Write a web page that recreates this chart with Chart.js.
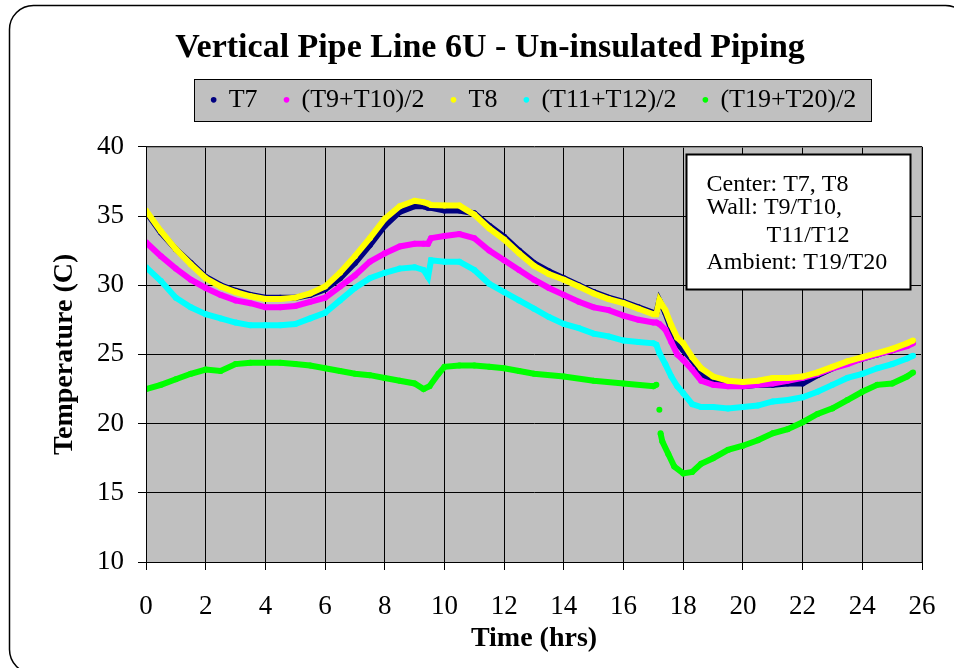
<!DOCTYPE html>
<html>
<head>
<meta charset="utf-8">
<script src="https://cdn.jsdelivr.net/npm/chart.js@4.4.1/dist/chart.umd.min.js"></script>
<style>
  html, body { margin: 0; padding: 0; background: #ffffff; }
  #wrap { width: 954px; height: 668px; position: relative; }
</style>
</head>
<body>
<div id="wrap"><canvas id="c" width="954" height="668"></canvas></div>
<script>
// ---- Data ----
const chartTitle = 'Vertical Pipe Line 6U - Un-insulated Piping';
const seriesNames = ['T7', '(T9+T10)/2', 'T8', '(T11+T12)/2', '(T19+T20)/2'];
const xTicks = [0, 2, 4, 6, 8, 10, 12, 14, 16, 18, 20, 22, 24, 26];
const yTicks = [10, 15, 20, 25, 30, 35, 40];
const noteLines = ['Center: T7, T8', 'Wall: T9/T10,', '         T11/T12', 'Ambient: T19/T20'];

const timePipe = [0, 0.5, 1, 1.5, 2, 2.5, 3, 3.5, 4, 4.5, 5, 5.5, 6, 6.5, 7, 7.5, 8, 8.5, 9,
  9.3, 9.45, 9.55, 10, 10.5, 11, 11.5, 12, 12.5, 13, 13.5, 14, 14.5, 15, 15.5, 16, 16.5, 17,
  17.1, 17.2, 17.4, 17.6, 17.8, 18, 18.3, 18.6, 19, 19.5, 20, 20.5, 21, 21.5, 22, 22.5, 23,
  23.5, 24, 24.5, 25, 25.5, 25.7];

const t7 = [35.3, 33.8, 32.6, 31.6, 30.6, 30.0, 29.6, 29.3, 29.1, 29.1, 29.1, 29.3, 29.7, 30.5,
  31.6, 32.9, 34.3, 35.3, 35.7, 35.7, 35.6, 35.6, 35.4, 35.4, 35.2, 34.3, 33.5, 32.5, 31.6, 31.0,
  30.5, 30.0, 29.5, 29.1, 28.8, 28.4, 28.0, 28.0, 28.9, 28.0, 26.8, 25.8, 25.3, 24.6, 23.6, 23.1,
  22.8, 22.7, 22.8, 22.8, 22.9, 22.9, 23.5, 24.0, 24.4, 24.7, 25.0, 25.3, 25.7, 25.9];

const t9t10 = [33.1, 32.1, 31.2, 30.4, 29.8, 29.3, 28.9, 28.7, 28.4, 28.4, 28.5, 28.8, 29.1, 29.9,
  30.7, 31.7, 32.3, 32.8, 33.0, 33.0, 33.0, 33.4, 33.55, 33.7, 33.4, 32.5, 31.8, 31.1, 30.4, 29.8,
  29.3, 28.8, 28.4, 28.2, 27.8, 27.5, 27.3, 27.3, 27.2, 26.8, 25.9, 25.0, 24.6, 23.9, 23.1, 22.8,
  22.7, 22.7, 22.8, 22.9, 23.1, 23.3, 23.6, 24.0, 24.3, 24.7, 25.0, 25.3, 25.6, 25.8];

const t8 = [35.4, 33.9, 32.6, 31.5, 30.5, 29.9, 29.5, 29.2, 29.0, 29.0, 29.1, 29.4, 29.9, 30.9,
  32.1, 33.4, 34.8, 35.7, 36.1, 36.0, 35.9, 35.8, 35.75, 35.75, 35.1, 34.1, 33.3, 32.3, 31.4, 30.8,
  30.4, 29.9, 29.4, 29.0, 28.7, 28.3, 27.9, 27.9, 28.9, 28.2, 27.1, 26.2, 25.8, 24.8, 24.0, 23.4,
  23.1, 23.0, 23.1, 23.3, 23.3, 23.4, 23.7, 24.1, 24.5, 24.8, 25.1, 25.4, 25.8, 26.0];

const t11t12 = [31.3, 30.3, 29.1, 28.4, 27.9, 27.6, 27.3, 27.1, 27.1, 27.1, 27.2, 27.6, 28.0, 28.9,
  29.8, 30.5, 30.9, 31.2, 31.3, 31.1, 30.6, 31.8, 31.7, 31.7, 31.1, 30.1, 29.5, 28.9, 28.3, 27.7,
  27.2, 26.9, 26.5, 26.3, 26.0, 25.9, 25.8, 25.7, 25.1, 24.3, 23.4, 22.7, 22.2, 21.4, 21.2, 21.2,
  21.1, 21.2, 21.3, 21.6, 21.7, 21.9, 22.3, 22.8, 23.3, 23.6, 24.0, 24.3, 24.7, 24.9];

const timeAmbient = [0, 0.5, 1, 1.5, 2, 2.5, 3, 3.5, 4, 4.5, 5, 5.5, 6, 6.5, 7, 7.5, 8, 8.5, 9,
  9.3, 9.5, 9.8, 10, 10.5, 11, 11.5, 12, 12.5, 13, 14, 15, 16, 17, 17.1, 17.15, 17.2, 17.22,
  17.23, 17.24, 17.3, 17.5, 17.7, 18, 18.3, 18.6, 19, 19.5, 20, 20.5, 21, 21.5, 22, 22.5, 23,
  23.5, 24, 24.5, 25, 25.5, 25.7];

const t19t20 = [22.5, 22.8, 23.2, 23.6, 23.9, 23.8, 24.3, 24.4, 24.4, 24.4, 24.3, 24.2, 24.0, 23.8,
  23.6, 23.5, 23.3, 23.1, 22.9, 22.5, 22.7, 23.6, 24.1, 24.2, 24.2, 24.1, 24.0, 23.8, 23.6, 23.4,
  23.1, 22.9, 22.7, 22.8, null, 21.0, null, null, 19.3, 18.7, 17.8, 16.9, 16.4, 16.5, 17.1, 17.5,
  18.1, 18.4, 18.8, 19.3, 19.6, 20.1, 20.7, 21.1, 21.7, 22.3, 22.8, 22.9, 23.4, 23.7];

const seriesColors = ['#000080', '#ff00ff', '#ffff00', '#00ffff', '#00ff00'];

// ---- Build datasets ----
function pts(xs, ys) { return xs.map((x, i) => ({ x: x, y: ys[i] })); }
const seriesData = [pts(timePipe, t7), pts(timePipe, t9t10), pts(timePipe, t8),
                    pts(timePipe, t11t12), pts(timeAmbient, t19t20)];
// drawing order: yellow (T8) painted over navy (T7)
const drawOrder = [2, 1, 0, 3, 4];
const datasets = seriesNames.map((name, i) => ({
  label: name,
  data: seriesData[i],
  xAxisID: 'x',
  yAxisID: 'y',
  borderColor: seriesColors[i],
  backgroundColor: seriesColors[i],
  pointBackgroundColor: seriesColors[i],
  pointBorderWidth: 0,
  pointRadius: 3,
  borderWidth: 6,
  tension: 0,
  spanGaps: false,
  showLine: true,
  order: drawOrder[i]
}));

const FONT = "'Liberation Serif', 'Times New Roman', serif";

const framePlugin = {
  id: 'frame',
  beforeDraw(chart) {
    const ctx = chart.ctx;
    ctx.save();
    ctx.fillStyle = '#ffffff';
    ctx.fillRect(0, 0, chart.width, chart.height);
    // rounded outer frame
    const x = 9.5, y = 5.5, w = 960, h = 668, r = 24;
    ctx.beginPath();
    ctx.moveTo(x + r, y);
    ctx.lineTo(x + w - r, y);
    ctx.arcTo(x + w, y, x + w, y + r, r);
    ctx.lineTo(x + w, y + h - r);
    ctx.arcTo(x + w, y + h, x + w - r, y + h, r);
    ctx.lineTo(x + r, y + h);
    ctx.arcTo(x, y + h, x, y + h - r, r);
    ctx.lineTo(x, y + r);
    ctx.arcTo(x, y, x + r, y, r);
    ctx.closePath();
    ctx.strokeStyle = '#000000';
    ctx.lineWidth = 1.5;
    ctx.stroke();
    // plot area background
    const a = chart.chartArea;
    ctx.fillStyle = '#c0c0c0';
    ctx.fillRect(a.left, a.top, a.right - a.left, a.bottom - a.top);
    // legend background box
    const lg = chart.legend;
    if (lg && lg.legendHitBoxes && lg.legendHitBoxes.length) {
      let minX = Infinity, maxX = -Infinity, minY = Infinity, maxY = -Infinity;
      lg.legendHitBoxes.forEach(b => {
        minX = Math.min(minX, b.left); maxX = Math.max(maxX, b.left + b.width);
        minY = Math.min(minY, b.top); maxY = Math.max(maxY, b.top + b.height);
      });
      const cy = (minY + maxY) / 2;
      const bx = Math.round(minX - 18) + 0.5, by = Math.round(cy - 21) + 0.5;
      const bw = Math.round(maxX - minX + 32), bh = 42;
      ctx.fillStyle = '#c0c0c0';
      ctx.fillRect(bx, by, bw, bh);
      ctx.strokeStyle = '#000000';
      ctx.lineWidth = 1;
      ctx.strokeRect(bx, by, bw, bh);
    }
    ctx.restore();
  },
  afterDraw(chart) {
    const ctx = chart.ctx;
    const a = chart.chartArea;
    ctx.save();
    // plot border
    ctx.strokeStyle = '#808080';
    ctx.lineWidth = 1;
    ctx.strokeRect(a.left + 0.5, a.top + 0.5, a.right - a.left - 1, a.bottom - a.top);
    ctx.strokeStyle = '#000000';
    ctx.beginPath();
    ctx.moveTo(a.left + 0.5, a.top); ctx.lineTo(a.left + 0.5, a.bottom);
    ctx.moveTo(a.left, a.bottom + 0.5); ctx.lineTo(a.right, a.bottom + 0.5);
    ctx.stroke();
    // note box (positioned in data units relative to axes)
    const xs = chart.scales.x, ys = chart.scales.y;
    const bx = Math.round(xs.getPixelForValue(18.1)) + 0.5;
    const by = Math.round(ys.getPixelForValue(39.5)) + 0.5;
    const bw = Math.round(xs.getPixelForValue(25.6) - bx);
    const bh = Math.round(ys.getPixelForValue(29.7) - by);
    ctx.fillStyle = '#ffffff';
    ctx.fillRect(bx, by, bw, bh);
    ctx.strokeStyle = '#000000';
    ctx.lineWidth = 2;
    ctx.strokeRect(bx, by, bw, bh);
    ctx.fillStyle = '#000000';
    ctx.font = "24px " + FONT;
    ctx.textBaseline = 'middle';
    ctx.textAlign = 'left';
    const offs = [30, 53, 81, 108];
    noteLines.forEach((ln, i) => {
      ctx.fillText(ln.trimStart(), bx + 20 + (ln.startsWith(' ') ? 60 : 0), by + offs[i]);
    });
    ctx.restore();
  }
};

new Chart(document.getElementById('c'), {
  type: 'scatter',
  data: { datasets: datasets },
  plugins: [framePlugin],
  options: {
    responsive: false,
    animation: false,
    devicePixelRatio: 1,
    layout: { padding: { left: 58, right: 32, top: 28, bottom: 4 } },
    plugins: {
      title: {
        display: true,
        text: chartTitle,
        color: '#000000',
        font: { family: FONT, size: 34, weight: 'bold' },
        padding: { top: 0, bottom: -9 }
      },
      legend: {
        display: true,
        position: 'top',
        fullSize: false,
        labels: {
          color: '#000000',
          font: { family: FONT, size: 26 },
          usePointStyle: true,
          pointStyle: 'circle',
          boxWidth: 4,
          boxHeight: 4,
          padding: 27,
          sort: (a, b) => a.datasetIndex - b.datasetIndex
        }
      },
      tooltip: { enabled: false }
    },
    scales: {
      x: {
        type: 'linear',
        min: 0, max: 26,
        afterBuildTicks(scale) { scale.ticks = xTicks.map(v => ({ value: v })); },
        afterFit(scale) { scale.height = 102; scale.paddingLeft = 0; scale.paddingRight = 0; },
        ticks: { color: '#000000', font: { family: FONT, size: 27 }, padding: 21, maxRotation: 0, autoSkip: false },
        grid: { color: '#000000', lineWidth: 1, tickLength: 8, tickColor: '#000000' },
        border: { display: true, color: '#000000' },
        title: { display: true, text: 'Time (hrs)', color: '#000000', font: { family: FONT, size: 28, weight: 'bold' }, padding: { top: 0, bottom: 8 } }
      },
      xTopSpacer: {
        type: 'linear',
        position: 'top',
        min: 0, max: 26,
        display: true,
        afterFit(scale) { scale.height = 24; scale.paddingLeft = 0; scale.paddingRight = 0; },
        ticks: { display: false },
        grid: { display: false, drawTicks: false },
        border: { display: false }
      },
      y: {
        type: 'linear',
        min: 10, max: 40,
        afterBuildTicks(scale) { scale.ticks = yTicks.map(v => ({ value: v })); },
        afterFit(scale) { scale.width = 88; },
        ticks: { color: '#000000', font: { family: FONT, size: 27 }, padding: 14, autoSkip: false },
        grid: { color: '#000000', lineWidth: 1, tickLength: 8, tickColor: '#000000' },
        border: { display: true, color: '#000000' },
        title: { display: true, text: 'Temperature (C)', color: '#000000', font: { family: FONT, size: 28, weight: 'bold' }, padding: { top: -10, bottom: 0 } }
      }
    }
  }
});
</script>
</body>
</html>
